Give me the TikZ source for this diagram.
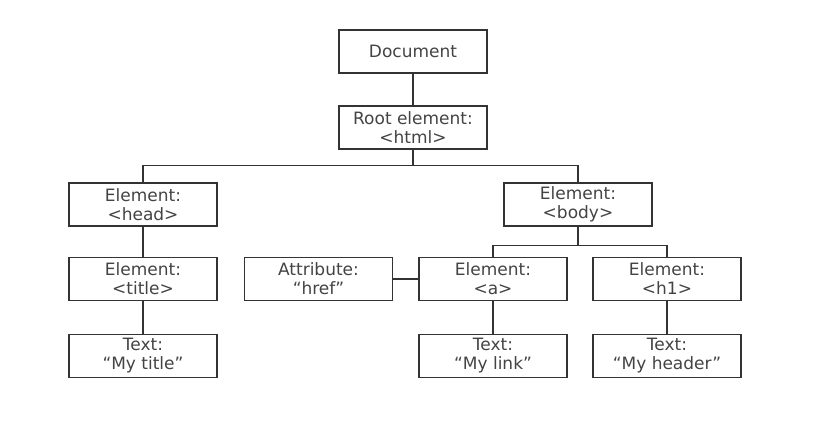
\documentclass[tikz,border=0pt]{standalone}
\usepackage{fontspec}
\setmainfont{DejaVu Sans}
\definecolor{linec}{HTML}{333333}
\definecolor{textc}{HTML}{444444}
\begin{document}
\begin{tikzpicture}[x=1pt,y=-1pt,
  box/.style={draw=linec, line width=1.2pt, fill=white, minimum width=148pt, minimum height=43pt,
    inner sep=0pt, align=center, text=textc, font=\fontsize{17}{19}\selectfont},
  conn/.style={draw=linec, line width=1.2pt}]
\fill[white] (0,0) rectangle (819,433);
\useasboundingbox (0,0) rectangle (819,433);
\node[box] (doc) at (413,51.5) {Document};
\node[box] (root) at (413,127.5) {Root element:\\<html>};
\node[box] (head) at (143,204.5) {Element:\\<head>};
\node[box] (body) at (578,204.5) {Element:\\<body>};
\node[box] (title) at (143,279) {Element:\\<title>};
\node[box] (href) at (318.5,279) {Attribute:\\“href”};
\node[box] (a) at (493,279) {Element:\\<a>};
\node[box] (h1) at (667,279) {Element:\\<h1>};
\node[box] (ttext) at (143,356) {Text:\\“My title”};
\node[box] (ltext) at (493,356) {Text:\\“My link”};
\node[box] (htext) at (667,356) {Text:\\“My header”};
\draw[conn] (doc.south) -- (root.north);
\draw[conn] (root.south) -- ++(0,16) coordinate (rj);
\draw[conn] (head.north) |- (rj) -| (body.north);
\draw[conn] (body.south) -- ++(0,19) coordinate (bj);
\draw[conn] (a.north) |- (bj) -| (h1.north);
\draw[conn] (head.south) -- (title.north);
\draw[conn] (title.south) -- (ttext.north);
\draw[conn] (href.east) -- (a.west);
\draw[conn] (a.south) -- (ltext.north);
\draw[conn] (h1.south) -- (htext.north);
\end{tikzpicture}
\end{document}
